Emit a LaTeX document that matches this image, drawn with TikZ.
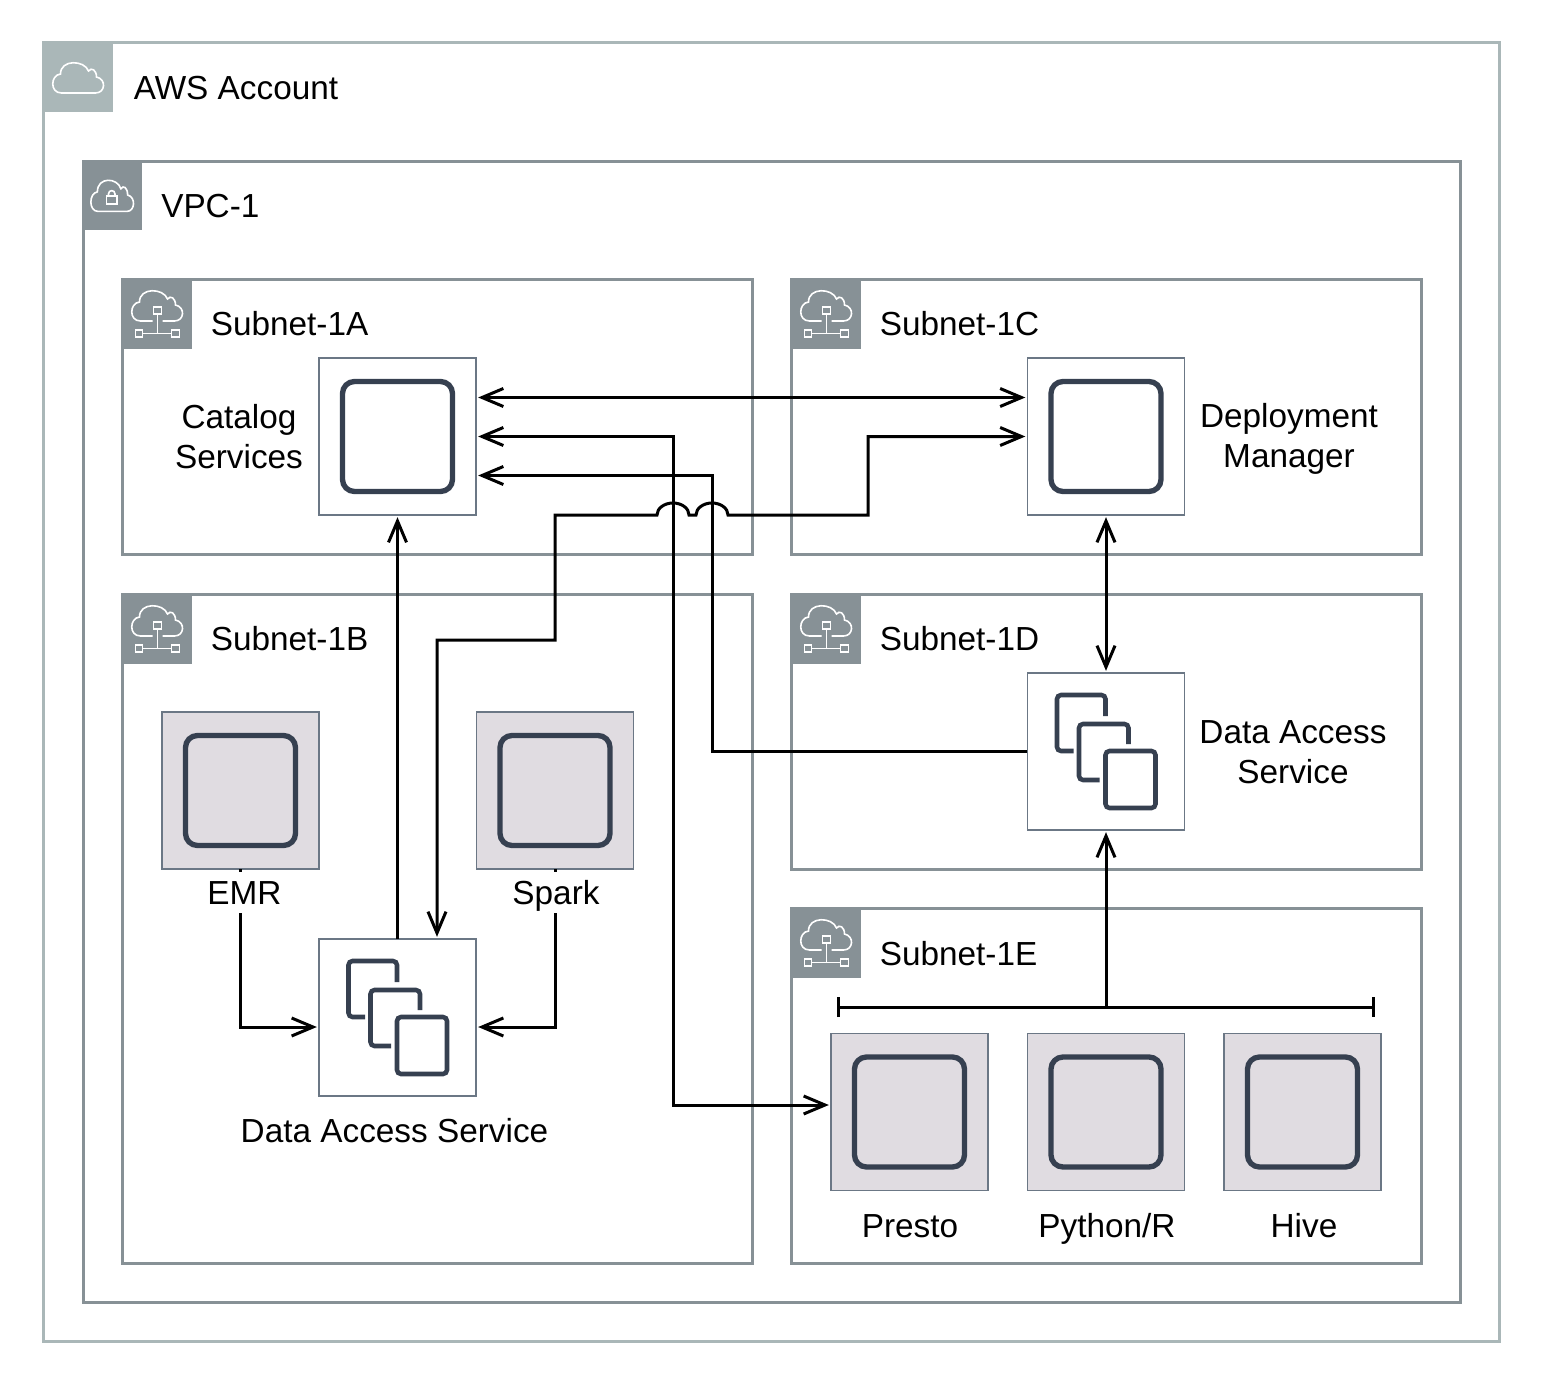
\documentclass[tikz,border=0pt]{standalone}
\usepackage{fontspec}
\setmainfont{Liberation Sans}
\usetikzlibrary{arrows.meta,calc}

\definecolor{awsgrey}{RGB}{170,183,184}
\definecolor{subnetgrey}{RGB}{135,145,150}
\definecolor{boxgrey}{RGB}{107,119,133}
\definecolor{icondark}{RGB}{54,64,80}
\definecolor{enginefill}{RGB}{224,220,225}

\tikzset{
  labeltext/.style={font=\fontsize{25}{30}\selectfont,inner sep=0.75pt,align=center},
  oneline/.style={labeltext,text height=17.5pt,text depth=0pt},
  awsline/.style={draw=awsgrey,line width=2.25pt},
  subnetline/.style={draw=subnetgrey,line width=2.25pt},
  servicebox/.style={draw=boxgrey,line width=1.2pt,fill=white,minimum size=118pt,inner sep=0pt,outer sep=0pt},
  enginebox/.style={servicebox,fill=enginefill},
  innerbox/.style={draw=icondark,line width=4pt,minimum size=82.5pt,inner sep=0pt,rounded corners=9pt},
  stackline/.style={draw=icondark,line width=3.4pt,rounded corners=3pt},
  iconline/.style={draw=white,line width=1.2pt},
  wire/.style={draw=black,line width=2.25pt},
  oneway/.style={wire,-{Straight Barb[length=16pt,width=13.5pt]},shorten >=1.5pt},
  backway/.style={wire,{Straight Barb[length=16pt,width=13.5pt]}-,shorten <=1.5pt},
  twoway/.style={wire,{Straight Barb[length=16pt,width=13.5pt]}-{Straight Barb[length=16pt,width=13.5pt]},shorten >=1.5pt,shorten <=1.5pt},
}

% plain cloud, centre at #1,#2 with scales #3,#4
\newcommand{\cloudclosed}[4]{
  \begin{scope}[shift={(#1,#2)},xscale=#3,yscale=#4]
    \draw [iconline] (-17,15) .. controls (-29,15) and (-28,-3) .. (-18,-4) .. controls (-18,-19) and (6,-18) .. (10,-7) .. controls (13,-11) and (18,-8) .. (18,-1) .. controls (28,1) and (27,15) .. (17,15) -- cycle ;
  \end{scope}
}
% subnet cloud with the network below it
\newcommand{\cloudsubnet}[2]{
  \begin{scope}[shift={(#1,#2)}]
    \draw [iconline] (-5,14) -- (-17,14) .. controls (-29,14) and (-28,-4) .. (-18,-5) .. controls (-18,-20) and (6,-19) .. (10,-8) .. controls (13,-12) and (18,-9) .. (18,-2) .. controls (28,0) and (27,14) .. (17,14) -- (5,14) ;
    \draw [iconline] (-4,0) rectangle (4,7) ;
    \draw [iconline] (-22,23) rectangle (-15,30) ;
    \draw [iconline] (14,23) rectangle (22,30) ;
    \draw [iconline] (0,7) -- (0,26.5) ;
    \draw [iconline] (-15,26.5) -- (14,26.5) ;
  \end{scope}
}
% three overlapping squares around the centre #1,#2
\newcommand{\stackicon}[2]{
  \begin{scope}[shift={(#1,#2)}]
    \draw [stackline] (-0.5,-35.5) -- (-0.5,-56.5) -- (-49,-56.5) -- (-49,-0.5) -- (-32.5,-0.5) ;
    \draw [stackline] (22.5,-7.5) -- (22.5,-27.5) -- (-27,-27.5) -- (-27,28.5) -- (-6.5,28.5) ;
    \draw [stackline] (-0.5,-0.5) rectangle (49.5,56.5) ;
  \end{scope}
}

\begin{document}
\begin{tikzpicture}[x=0.75pt,y=0.75pt,yscale=-1,xscale=1]
\useasboundingbox (0,0) rectangle (1542,1384);

%Containers
\draw [awsline] (43,42.5) rectangle (1499.5,1341) ;
\fill [awsgrey] (42,41) rectangle (113,112) ;
\cloudclosed{78.5}{78}{1}{1}
\draw [subnetline] (83,161.5) rectangle (1460.5,1302) ;
\fill [subnetgrey] (82,160) rectangle (142,230) ;
\cloudclosed{112.5}{196}{0.84}{1.03}
\draw [iconline] (106.5,196) rectangle (117,204) ;
\draw [iconline] (108.5,196) -- (108.5,194) .. controls (108.5,189.5) and (115,189.5) .. (115,194) -- (115,196) ;

\foreach \x/\y/\w/\h in {122/279/752.5/554,791/279/1421.5/554,122/594/752.5/1263,791/594/1421.5/869,791/908/1421.5/1263}{
  \draw [subnetline] (\x,\y) rectangle (\w,\h) ;
  \fill [subnetgrey] (\x-1,\y-1) rectangle (\x+70,\y+70) ;
  \cloudsubnet{\x+35.5}{\y+28}
}

%Service boxes
\node [servicebox] (catalog) at (397.5,436.5) {};
\node [innerbox] (catalogicon) at (catalog) {};
\node [servicebox] (deploy) at (1106,436.5) {};
\node [innerbox] (deployicon) at (deploy) {};
\node [servicebox] (dasleft) at (397.5,1017.5) {};
\stackicon{397.5}{1017.5}
\node [servicebox] (dasright) at (1106,751.5) {};
\stackicon{1106}{751.5}

%Engine boxes
\node [enginebox] (emr) at (240.5,790.5) {};
\node [innerbox] (emricon) at (emr) {};
\node [enginebox] (spark) at (555,790.5) {};
\node [innerbox] (sparkicon) at (spark) {};
\node [enginebox] (presto) at (909.5,1112) {};
\node [innerbox] (prestoicon) at (presto) {};
\node [enginebox] (python) at (1106,1112) {};
\node [innerbox] (pythonicon) at (python) {};
\node [enginebox] (hive) at (1302.5,1112) {};
\node [innerbox] (hiveicon) at (hive) {};

%Turning points
\coordinate (prestoturn) at (673,1105);
\coordinate (dasturn) at (712,751.5);
\coordinate (jumpright) at (728,515);
\coordinate (bracketleft) at (837,1007);
\coordinate (bracketright) at (1375,1007);
\coordinate (bracketmid) at (1106,1007);

%Straight Lines
\draw [twoway] ($(catalog.east)+(0,-39)$) -- ($(deploy.west)+(0,-39)$) ;
\draw [twoway] (catalog.east) -| (prestoturn) -- ($(presto.west)+(0,-7)$) ;
\draw [backway] ($(catalog.east)+(0,39)$) -| (dasturn) -- (dasright.west) ;
\draw [twoway] (deploy.west) -- (868,436.5) -- (868,515) -- (jumpright) arc [start angle=0,end angle=-180,x radius=16,y radius=12] -- (689,515) arc [start angle=0,end angle=-180,x radius=16,y radius=12] -- (555,515) -- (555,640) -- (437,640) -- ($(dasleft.north)+(39.5,0)$) ;
\draw [oneway] (dasleft.north) -- (catalog.south) ;
\draw [twoway] (deploy.south) -- (dasright.north) ;
\draw [wire,{Bar[width=15pt]}-{Bar[width=15pt]}] (bracketleft) -- (bracketright) ;
\draw [oneway] (bracketmid) -- (dasright.south) ;
\draw [oneway] (emr.south) |- ($(dasleft.west)+(0,9.5)$) ;
\draw [oneway] (spark.south) |- ($(dasleft.east)+(0,9.5)$) ;

% Text Node
\node [oneline,anchor=west] (awstitle) at (132.5,87.5) {AWS Account};
\node [oneline,anchor=west] (vpctitle) at (160,205.5) {VPC-1};
\node [oneline,anchor=west] (subnetatitle) at (209.5,323.5) {Subnet-1A};
\node [oneline,anchor=west] (subnetbtitle) at (209.5,638.5) {Subnet-1B};
\node [oneline,anchor=west] (subnetctitle) at (878.5,323.5) {Subnet-1C};
\node [oneline,anchor=west] (subnetdtitle) at (878.5,638.5) {Subnet-1D};
\node [oneline,anchor=west] (subnetetitle) at (878.5,953.5) {Subnet-1E};
\node [labeltext] (catalogtext) at (239,436.5) {Catalog\\Services};
\node [labeltext] (deploytext) at (1289,438.5) {Deployment\\Manager};
\node [labeltext] (dasrighttext) at (1293,752) {Data Access\\Service};
\node [oneline] (daslefttext) at (394.5,1130.5) {Data Access Service};
\node [oneline,fill=white,minimum height=31pt] (emrtext) at (244.5,892.5) {EMR};
\node [oneline,fill=white,minimum height=31pt] (sparktext) at (556,892.5) {Spark};
\node [oneline] (prestotext) at (910,1225.5) {Presto};
\node [oneline] (pythontext) at (1107,1225.5) {Python/R};
\node [oneline] (hivetext) at (1304,1225.5) {Hive};

\end{tikzpicture}
\end{document}
